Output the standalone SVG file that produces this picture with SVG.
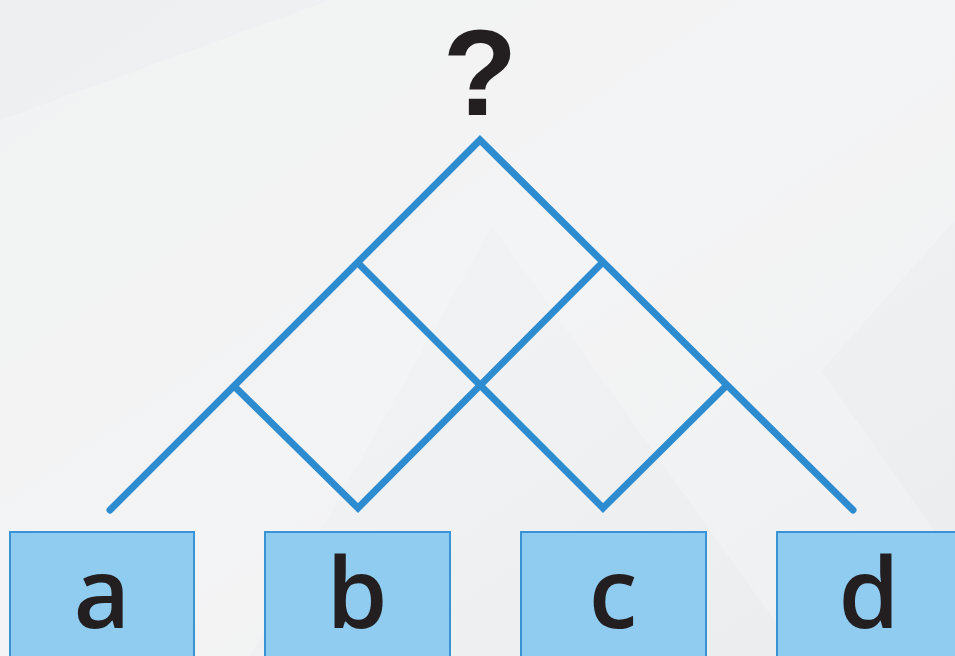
<svg xmlns="http://www.w3.org/2000/svg" width="955" height="656" viewBox="0 0 955 656">
<defs>
<linearGradient id="bg" x1="0" y1="0" x2="1" y2="1">
<stop offset="0" stop-color="#eeeff0"/>
<stop offset="0.5" stop-color="#f1f2f3"/>
<stop offset="1" stop-color="#ebecee"/>
</linearGradient>
<style>
.edge{fill:none;stroke:#2d8ccf;stroke-width:7;stroke-linecap:round;stroke-linejoin:miter}
.box{fill:#90cbf0;stroke:#3a93d5;stroke-width:2}
.lbl{font-family:"Open Sans","DejaVu Sans",sans-serif;font-size:98px;font-weight:600;fill:#231f20;text-anchor:middle}
.q{font-family:"Liberation Sans","DejaVu Sans",sans-serif;font-size:122px;font-weight:bold}
.facet{fill:#ffffff}
</style>
</defs>
<rect width="955" height="656" fill="url(#bg)"/>
<g opacity="0.2">
<polygon class="facet" points="0,120 330,0 620,0 250,656 0,656"/>
<polygon class="facet" points="330,0 560,0 955,560 955,656 800,656"/>
<polygon class="facet" points="540,0 955,0 955,220 760,440"/>
</g>
<g id="connectors">
<polyline class="edge" points="110,510 480,140 853,510"/>
<polyline class="edge" points="358,263 603,508 725,387"/>
<polyline class="edge" points="602,263 358,508 235,387"/>
</g>
<g id="root"><text class="lbl q" x="480" y="115">?</text></g>
<g id="node-a"><rect class="box" x="10" y="532" width="184" height="130"/><text class="lbl" x="102" y="628">a</text></g>
<g id="node-b"><rect class="box" x="265" y="532" width="185" height="130"/><text class="lbl" x="357" y="628">b</text></g>
<g id="node-c"><rect class="box" x="521" y="532" width="185" height="130"/><text class="lbl" x="613" y="628">c</text></g>
<g id="node-d"><rect class="box" x="777" y="532" width="185" height="130"/><text class="lbl" x="869" y="628">d</text></g>
</svg>
